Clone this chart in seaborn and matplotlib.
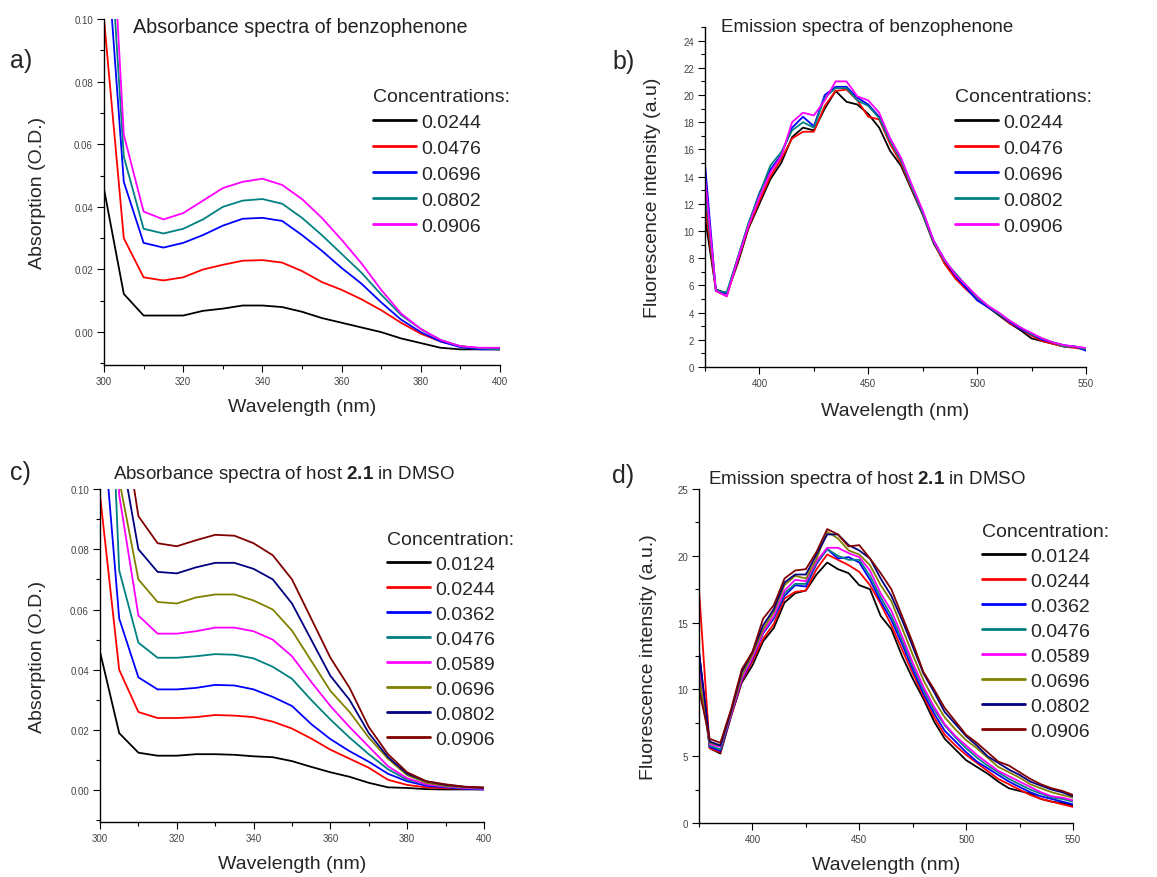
import numpy as np
import pandas as pd
import matplotlib
matplotlib.use("Agg")
import matplotlib.pyplot as plt
from matplotlib.ticker import MultipleLocator, FormatStrFormatter
from matplotlib.lines import Line2D
import seaborn as sns

# ---------------- data ----------------
abs_wl = [300, 305, 310, 315, 320, 325, 330, 335, 340, 345, 350,
          355, 360, 365, 370, 375, 380, 385, 390, 395, 400]
em_wl = list(range(375, 551, 5))

# panel a: absorbance of benzophenone
a_conc = ["0.0244", "0.0476", "0.0696", "0.0802", "0.0906"]
a_0244 = [0.0457, 0.0122, 0.0053, 0.0053, 0.0053, 0.0068, 0.0075, 0.0085, 0.0085, 0.0080, 0.0065,
          0.0045, 0.0030, 0.0015, 0.0000, -0.0020, -0.0035, -0.0050, -0.0055, -0.0055, -0.0055]
a_0476 = [0.100, 0.030, 0.0175, 0.0165, 0.0175, 0.020, 0.0215, 0.0228, 0.0230, 0.0222, 0.0195,
          0.0160, 0.0135, 0.0105, 0.0070, 0.0030, -0.0005, -0.0030, -0.0045, -0.0052, -0.0055]
a_0696 = [0.135, 0.048, 0.0285, 0.027, 0.0285, 0.031, 0.034, 0.0362, 0.0365, 0.0355, 0.031,
          0.026, 0.0205, 0.0155, 0.0095, 0.004, 0.000, -0.003, -0.0048, -0.0055, -0.0055]
a_0802 = [0.156, 0.056, 0.033, 0.0315, 0.033, 0.036, 0.040, 0.042, 0.0425, 0.041, 0.0365,
          0.031, 0.025, 0.019, 0.012, 0.0055, 0.001, -0.0025, -0.0045, -0.0052, -0.0055]
a_0906 = [0.178, 0.063, 0.0385, 0.036, 0.038, 0.042, 0.046, 0.048, 0.049, 0.047, 0.0425,
          0.0365, 0.0295, 0.022, 0.0135, 0.006, 0.001, -0.0025, -0.0045, -0.005, -0.005]

# panel b: emission of benzophenone
b_0244 = [11.0, 5.7, 5.4, 7.6, 10.2, 12.0, 13.8, 15.0, 16.9, 17.6, 17.4, 19.0, 20.3, 19.5, 19.3, 18.6,
          17.6, 15.9, 14.8, 13.0, 11.2, 9.1, 7.7, 6.6, 5.8, 5.0, 4.4, 3.8, 3.2, 2.7, 2.1, 1.9, 1.7, 1.5, 1.5, 1.3]
b_0476 = [12.0, 5.6, 5.2, 7.8, 10.3, 12.2, 14.0, 15.3, 16.8, 17.3, 17.3, 19.2, 20.3, 20.4, 19.6, 18.4,
          18.2, 16.4, 15.0, 13.1, 11.3, 9.2, 7.6, 6.5, 5.7, 5.0, 4.4, 3.9, 3.2, 2.8, 2.3, 1.9, 1.7, 1.5, 1.4, 1.3]
b_0696 = [14.9, 5.6, 5.4, 8.0, 10.5, 12.8, 14.5, 15.6, 17.6, 18.4, 17.7, 20.0, 20.6, 20.6, 19.8, 19.3,
          18.4, 16.8, 15.3, 13.3, 11.4, 9.3, 7.9, 6.7, 5.8, 4.9, 4.4, 3.9, 3.3, 2.8, 2.4, 2.0, 1.8, 1.6, 1.5, 1.2]
b_0802 = [13.0, 5.6, 5.5, 8.0, 10.6, 12.7, 14.8, 15.8, 17.4, 18.0, 17.6, 19.8, 20.5, 20.5, 19.6, 19.2,
          18.3, 16.6, 15.2, 13.2, 11.3, 9.2, 7.8, 6.9, 6.0, 5.1, 4.5, 3.9, 3.4, 2.9, 2.4, 2.1, 1.8, 1.5, 1.5, 1.3]
b_0906 = [14.0, 5.6, 5.2, 7.9, 10.4, 12.5, 14.3, 15.5, 18.0, 18.7, 18.5, 19.6, 21.0, 21.0, 19.9, 19.6,
          18.7, 16.8, 15.4, 13.4, 11.5, 9.3, 7.9, 6.8, 6.0, 5.2, 4.5, 4.0, 3.4, 2.9, 2.5, 2.1, 1.8, 1.6, 1.5, 1.4]

# panel c: absorbance of host 2.1 in DMSO
c_conc = ["0.0124", "0.0244", "0.0362", "0.0476", "0.0589", "0.0696", "0.0802", "0.0906"]
c_0124 = [0.046, 0.019, 0.0125, 0.0115, 0.0115, 0.012, 0.012, 0.0118, 0.0113, 0.011, 0.0097,
          0.0078, 0.006, 0.0045, 0.0025, 0.001, 0.0008, 0.0004, 0.0003, 0.0003, 0.0003]
c_0244 = [0.098, 0.040, 0.026, 0.024, 0.024, 0.0243, 0.025, 0.0248, 0.0243, 0.0228, 0.0205,
          0.0172, 0.0135, 0.0105, 0.0075, 0.0035, 0.0018, 0.0010, 0.0007, 0.0005, 0.0005]
c_0362 = [0.134, 0.057, 0.0375, 0.0335, 0.0335, 0.034, 0.035, 0.0348, 0.0335, 0.031, 0.028,
          0.022, 0.017, 0.013, 0.0095, 0.0055, 0.003, 0.0015, 0.001, 0.0005, 0.0003]
c_0476 = [0.223, 0.073, 0.049, 0.044, 0.044, 0.0445, 0.0452, 0.045, 0.0438, 0.041, 0.037,
          0.030, 0.0235, 0.0175, 0.012, 0.007, 0.0035, 0.002, 0.0012, 0.0008, 0.0005]
c_0589 = [0.25, 0.098, 0.058, 0.052, 0.052, 0.0528, 0.054, 0.054, 0.0528, 0.050, 0.0445,
          0.036, 0.028, 0.021, 0.0145, 0.008, 0.004, 0.002, 0.0013, 0.0008, 0.0005]
c_0696 = [0.30, 0.103, 0.070, 0.0625, 0.062, 0.064, 0.065, 0.065, 0.063, 0.060, 0.053,
          0.043, 0.033, 0.026, 0.0175, 0.0105, 0.005, 0.0025, 0.0015, 0.001, 0.0008]
c_0802 = [0.35, 0.116, 0.080, 0.0725, 0.072, 0.074, 0.0755, 0.0755, 0.0735, 0.070, 0.062,
          0.050, 0.038, 0.030, 0.019, 0.011, 0.0055, 0.003, 0.0018, 0.0012, 0.0008]
c_0906 = [0.40, 0.132, 0.091, 0.082, 0.081, 0.083, 0.0848, 0.0845, 0.082, 0.078, 0.070,
          0.057, 0.044, 0.034, 0.021, 0.012, 0.006, 0.003, 0.002, 0.0012, 0.001]

# panel d: emission of host 2.1 in DMSO
d_0124 = [12.7, 5.6, 5.2, 8.0, 10.5, 11.8, 13.6, 14.6, 16.5, 17.2, 17.4, 18.6, 19.5, 19.0, 18.7, 17.8,
          17.5, 15.5, 14.5, 12.5, 10.8, 9.3, 7.6, 6.3, 5.5, 4.7, 4.2, 3.7, 3.1, 2.6, 2.4, 2.2, 1.8, 1.6, 1.5, 1.3]
d_0244 = [17.5, 5.6, 5.3, 8.0, 10.6, 12.1, 13.8, 14.9, 16.8, 17.3, 17.4, 19.0, 20.1, 19.7, 19.3, 18.8,
          17.8, 16.4, 14.8, 13.0, 11.2, 9.5, 7.9, 6.6, 5.8, 5.1, 4.5, 3.9, 3.3, 2.9, 2.5, 2.1, 1.8, 1.6, 1.4, 1.2]
d_0362 = [12.8, 5.7, 5.4, 8.1, 10.7, 12.3, 14.2, 15.3, 17.0, 17.8, 17.7, 19.4, 20.5, 19.8, 19.9, 19.5,
          18.2, 16.6, 15.2, 13.4, 11.5, 9.7, 8.2, 6.9, 6.1, 5.3, 4.6, 4.1, 3.6, 3.1, 2.7, 2.3, 2.0, 1.8, 1.6, 1.4]
d_0476 = [11.0, 5.8, 5.5, 8.2, 10.9, 12.6, 14.3, 15.4, 17.2, 17.9, 17.9, 19.5, 20.5, 20.0, 19.7, 19.7,
          18.5, 16.9, 15.5, 13.7, 11.8, 10.0, 8.5, 7.3, 6.4, 5.6, 4.9, 4.3, 3.8, 3.3, 2.9, 2.5, 2.2, 1.9, 1.8, 1.6]
d_0589 = [11.5, 5.9, 5.7, 8.2, 10.8, 12.4, 14.3, 15.5, 17.4, 18.2, 18.1, 19.6, 20.6, 20.6, 20.2, 19.9,
          18.9, 17.2, 15.9, 14.0, 12.0, 10.2, 8.7, 7.4, 6.5, 5.8, 5.1, 4.5, 3.9, 3.5, 3.1, 2.7, 2.3, 2.0, 1.9, 1.7]
d_0696 = [11.0, 6.0, 5.8, 8.3, 11.0, 12.6, 14.5, 15.8, 17.8, 18.5, 18.3, 19.8, 21.8, 21.3, 20.4, 20.1,
          19.3, 17.8, 16.6, 14.6, 12.6, 10.7, 9.2, 7.9, 7.0, 6.2, 5.6, 4.9, 4.2, 3.8, 3.4, 2.9, 2.6, 2.3, 2.1, 1.9]
d_0802 = [12.8, 6.1, 5.8, 8.4, 11.3, 12.8, 14.8, 16.0, 18.0, 18.6, 18.6, 20.1, 21.6, 21.6, 20.8, 20.4,
          19.8, 18.3, 17.0, 15.2, 13.2, 11.2, 9.8, 8.3, 7.4, 6.5, 5.8, 5.0, 4.5, 4.0, 3.6, 3.1, 2.8, 2.5, 2.3, 2.0]
d_0906 = [10.0, 6.3, 6.0, 8.5, 11.5, 12.8, 15.3, 16.3, 18.3, 18.9, 19.0, 20.3, 22.0, 21.6, 20.7, 20.8,
          19.8, 18.7, 17.5, 15.5, 13.5, 11.3, 10.0, 8.6, 7.6, 6.6, 6.0, 5.3, 4.6, 4.3, 3.8, 3.3, 2.9, 2.6, 2.4, 2.1]

colors5 = ["#000000", "#ff0000", "#0000ff", "#008080", "#ff00ff"]
colors8 = ["#000000", "#ff0000", "#0000ff", "#008080", "#ff00ff", "#808000", "#000080", "#800000"]

# ---------------- style ----------------
sns.set_style("ticks")
plt.rcParams["font.family"] = ["Liberation Sans", "DejaVu Sans"]
plt.rcParams["mathtext.fontset"] = "custom"
plt.rcParams["mathtext.rm"] = "Liberation Sans"
plt.rcParams["mathtext.bf"] = "Liberation Sans:bold"

W, H = 1157, 878
fig = plt.figure(figsize=(W / 100, H / 100), dpi=100)


def rect(l, r, t, b):
    return [l / W, 1 - b / H, (r - l) / W, (b - t) / H]


def long_df(wl, series, labels):
    rows = []
    for lab, vals in zip(labels, series):
        rows.append(pd.DataFrame({"wl": wl, "val": vals, "conc": lab}))
    return pd.concat(rows, ignore_index=True)


def draw(ax, df, labels, colors, title, xlab_y, ylab_x, ylabel, leg_xy, leg_title,
         title_xy, title_size=13.5, spacing=0.42):
    sns.lineplot(data=df, x="wl", y="val", hue="conc", hue_order=labels,
                 palette=colors, ax=ax, legend=False, estimator=None, sort=False, lw=1.3)
    sns.despine(ax=ax)
    for s in ["left", "bottom"]:
        ax.spines[s].set_color("black")
        ax.spines[s].set_linewidth(1.0)
    ax.tick_params(which="major", direction="out", length=5, width=0.8,
                   labelsize=7, labelcolor="#444444", color="black", pad=3)
    ax.tick_params(which="minor", direction="out", length=3, width=0.8, color="black")
    ax.set_xlabel("Wavelength (nm)", fontsize=14, va="center")
    ax.xaxis.set_label_coords(0.5, xlab_y)
    ax.set_ylabel(ylabel, fontsize=14, va="center")
    ax.yaxis.set_label_coords(ylab_x, 0.5)
    handles = [Line2D([0], [0], color=c, lw=2.0) for c in colors]
    ax.legend(handles, labels, title=leg_title, loc="upper left", bbox_to_anchor=leg_xy,
              frameon=False, fontsize=14, title_fontsize=14, handlelength=2.2,
              handletextpad=0.3, labelspacing=spacing, borderpad=0, borderaxespad=0,
              alignment="left")
    ax.text(title_xy[0], title_xy[1], title, transform=ax.transAxes, ha="left", va="center",
            fontsize=title_size, color="#222222")


# panel a
ax_a = fig.add_axes(rect(104, 500, 20, 366))
df_a = long_df(abs_wl, [a_0244, a_0476, a_0696, a_0802, a_0906], a_conc)
draw(ax_a, df_a, a_conc, colors5, "Absorbance spectra of benzophenone", -0.121, -0.169,
     "Absorption (O.D.)", (0.679, 0.80), "Concentrations:", (0.073, 0.977), title_size=14.2,
     spacing=0.43)
ax_a.set_xlim(300, 400)
ax_a.set_ylim(-0.0105, 0.10)
ax_a.xaxis.set_major_locator(MultipleLocator(20))
ax_a.xaxis.set_minor_locator(MultipleLocator(10))
ax_a.yaxis.set_major_locator(MultipleLocator(0.02))
ax_a.yaxis.set_minor_locator(MultipleLocator(0.01))
ax_a.yaxis.set_major_formatter(FormatStrFormatter("%.2f"))

# panel b
ax_b = fig.add_axes(rect(705, 1086, 28, 368))
df_b = long_df(em_wl, [b_0244, b_0476, b_0696, b_0802, b_0906], a_conc)
draw(ax_b, df_b, a_conc, colors5, "Emission spectra of benzophenone", -0.129, -0.139,
     "Fluorescence intensity (a.u)", (0.656, 0.82), "Concentrations:", (0.042, 1.0),
     spacing=0.43)
ax_b.set_xlim(375, 550)
ax_b.set_ylim(0, 25)
ax_b.xaxis.set_major_locator(MultipleLocator(50))
ax_b.xaxis.set_minor_locator(MultipleLocator(25))
ax_b.yaxis.set_minor_locator(MultipleLocator(1))
ax_b.set_yticks(range(0, 25, 2))

# panel c
ax_c = fig.add_axes(rect(100, 484, 490, 823))
df_c = long_df(abs_wl, [c_0124, c_0244, c_0362, c_0476, c_0589, c_0696, c_0802, c_0906], c_conc)
draw(ax_c, df_c, c_conc, colors8, r"Absorbance spectra of host $\mathbf{2.1}$ in DMSO", -0.126, -0.164,
     "Absorption (O.D.)", (0.747, 0.873), "Concentration:", (0.034, 1.048), spacing=0.38)
ax_c.set_xlim(300, 400)
ax_c.set_ylim(-0.0105, 0.10)
ax_c.xaxis.set_major_locator(MultipleLocator(20))
ax_c.xaxis.set_minor_locator(MultipleLocator(10))
ax_c.yaxis.set_major_locator(MultipleLocator(0.02))
ax_c.yaxis.set_minor_locator(MultipleLocator(0.01))
ax_c.yaxis.set_major_formatter(FormatStrFormatter("%.2f"))

# panel d
ax_d = fig.add_axes(rect(699, 1073, 490, 824))
df_d = long_df(em_wl, [d_0124, d_0244, d_0362, d_0476, d_0589, d_0696, d_0802, d_0906], c_conc)
draw(ax_d, df_d, c_conc, colors8, r"Emission spectra of host $\mathbf{2.1}$ in DMSO", -0.123, -0.136,
     "Fluorescence intensity (a.u.)", (0.757, 0.898), "Concentration:", (0.024, 1.030),
     spacing=0.38)
ax_d.set_xlim(375, 550)
ax_d.set_ylim(0, 25)
ax_d.xaxis.set_major_locator(MultipleLocator(50))
ax_d.xaxis.set_minor_locator(MultipleLocator(25))
ax_d.yaxis.set_major_locator(MultipleLocator(5))
ax_d.yaxis.set_minor_locator(MultipleLocator(2.5))

# panel letters
for lab, x, y in [("a)", 10, 61), ("b)", 612, 62), ("c)", 10, 473), ("d)", 612, 476)]:
    fig.text(x / W, 1 - y / H, lab, fontsize=18, ha="left", va="center")

fig.savefig("out.png", dpi=100)
